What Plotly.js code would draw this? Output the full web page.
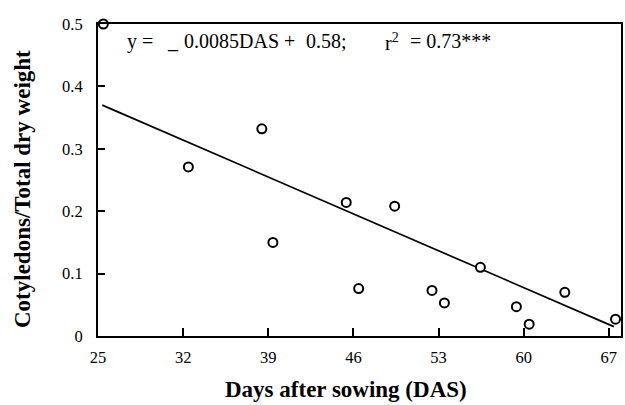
<!DOCTYPE html>
<html>
<head>
<meta charset="utf-8">
<script src="https://cdn.plot.ly/plotly-3.0.1.min.js"></script>
<style>html,body{margin:0;padding:0;background:#fff;}#chart{width:625px;height:405px;}</style>
</head>
<body>
<div id="chart"></div>
<script>
var dasValues = [25.44, 32.43, 38.47, 39.38, 45.41, 46.43, 49.39, 52.46, 53.48, 56.44, 59.40, 60.45, 63.38, 67.55];
var ratioValues = [0.500, 0.271, 0.332, 0.150, 0.214, 0.076, 0.208, 0.073, 0.053, 0.110, 0.047, 0.019, 0.070, 0.027];
// Regression line end points
var fitDas = [25.35, 67.41];
var fitRatio = [0.370, 0.015];
// Tick labels
var xTickVals = [25, 32, 39, 46, 53, 60, 67];
var xTickText = ["25", "32", "39", "46", "53", "60", "67"];
var yTickVals = [0, 0.1, 0.2, 0.3, 0.4, 0.5];
var yTickText = ["0", "0.1", "0.2", "0.3", "0.4", "0.5"];
// Texts
var xTitle = "Days after sowing (DAS)";
var yTitle = "Cotyledons/Total dry weight";
var eqParts = ["y =", "_", "0.0085DAS +", "0.58;", "r<sup>2</sup>", "= 0.73***"];

var serif = "Liberation Serif, Times New Roman, serif";

var W = 625, H = 405, ML = 98, MR = 4, MT = 24, MB = 69;
var PW = W - ML - MR, PH = H - MT - MB;
function px2x(p) { return (p - ML) / PW; }
function py2y(p) { return 1 - (p - MT) / PH; }

var traces = [
  {x: fitDas, y: fitRatio, mode: "lines", line: {color: "#000", width: 1.7}, hoverinfo: "skip", showlegend: false},
  {x: dasValues, y: ratioValues, mode: "markers", cliponaxis: false,
   marker: {symbol: "circle", size: 9, color: "#fff", line: {color: "#000", width: 2}}, showlegend: false}
];

var eqPos = [[125, "left"], [165, "left"], [181.5, "left"], [304, "left"], [382.5, "left"], [493.5, "right"]];
var eqTop = py2y(28);
var annotations = eqParts.map(function (t, i) {
  return {xref: "paper", yref: "paper", x: px2x(eqPos[i][0]), y: eqTop, xanchor: eqPos[i][1], yanchor: "top",
    text: t, showarrow: false, font: {family: serif, size: 20, color: "#000"}};
});
annotations.push({xref: "paper", yref: "paper", x: px2x(345.6), y: py2y(389), xanchor: "center", yanchor: "middle",
  text: "<b>" + xTitle + "</b>", showarrow: false, font: {family: serif, size: 23, color: "#000"}});
annotations.push({xref: "paper", yref: "paper", x: px2x(22), y: py2y(189), xanchor: "center", yanchor: "middle",
  textangle: -90, text: "<b>" + yTitle + "</b>", showarrow: false, font: {family: serif, size: 23, color: "#000"}});

var layout = {
  width: W, height: H,
  margin: {l: ML, r: MR, t: MT, b: MB, pad: 0},
  paper_bgcolor: "#fff", plot_bgcolor: "#fff",
  showlegend: false,
  font: {family: serif, color: "#000", size: 16},
  xaxis: {
    range: [25, 68], showgrid: false, zeroline: false,
    showline: true, linecolor: "#000", linewidth: 2, mirror: true,
    ticks: "inside", ticklen: 8, tickwidth: 2, tickcolor: "#000",
    tickvals: xTickVals, ticktext: xTickText,
    tickfont: {family: serif, size: 16.5, color: "#000"},
    ticklabelstandoff: 5
  },
  yaxis: {
    range: [0, 0.5], showgrid: false, zeroline: false,
    showline: true, linecolor: "#000", linewidth: 2, mirror: true,
    ticks: "inside", ticklen: 7, tickwidth: 2, tickcolor: "#000",
    tickvals: yTickVals, ticktext: yTickText,
    tickfont: {family: serif, size: 16.5, color: "#000"},
    ticklabelstandoff: 10
  },
  annotations: annotations
};

Plotly.newPlot("chart", traces, layout, {displayModeBar: false, staticPlot: true});
</script>
</body>
</html>
